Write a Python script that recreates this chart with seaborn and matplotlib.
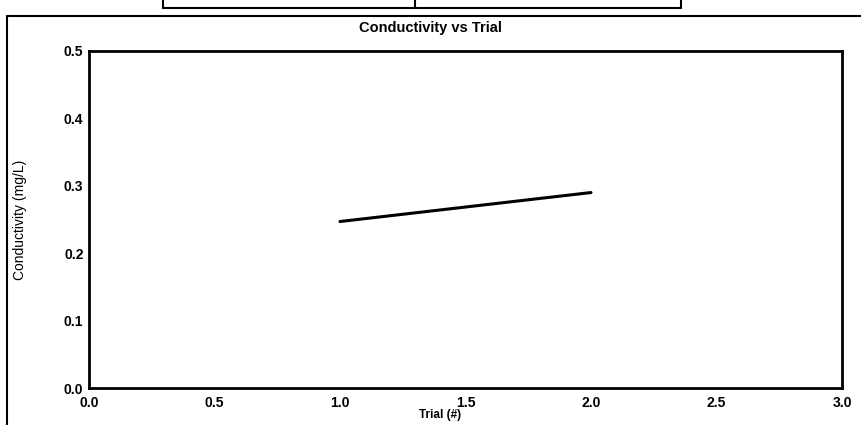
"""Conductivity vs Trial: single fitted line, scanned-report look."""
import matplotlib.pyplot as plt
import pandas as pd
import seaborn as sns
from matplotlib.lines import Line2D

trial = [1.0, 2.0]
conductivity = [0.247, 0.290]
x_ticks = [0.0, 0.5, 1.0, 1.5, 2.0, 2.5, 3.0]
y_ticks = [0.0, 0.1, 0.2, 0.3, 0.4, 0.5]

df = pd.DataFrame({"Trial (#)": trial, "Conductivity (mg/L)": conductivity})

sns.set_style("white")
plt.rcParams["font.family"] = ["Liberation Sans", "DejaVu Sans"]
plt.rcParams["text.color"] = "black"

W, H = 861, 425
fig = plt.figure(figsize=(W / 100, H / 100), dpi=100)
ax = fig.add_axes([89 / W, 1 - 388 / H, (842 - 89) / W, (388 - 51) / H])

sns.lineplot(data=df, x="Trial (#)", y="Conductivity (mg/L)", ax=ax,
             color="black", linewidth=2.2)

ax.set_xlim(0, 3)
ax.set_ylim(0, 0.5)
ax.set_xticks(x_ticks)
ax.set_yticks(y_ticks)
ax.set_xticklabels([f"{v:.1f}" for v in x_ticks], fontsize=10, fontweight="bold")
ax.set_yticklabels([f"{v:.1f}" for v in y_ticks], fontsize=10, fontweight="bold")
ax.tick_params(direction="in", length=5, width=1.5, colors="black")
ax.tick_params(axis="x", pad=6)
ax.tick_params(axis="y", pad=4)
for s in ax.spines.values():
    s.set_linewidth(2)
    s.set_color("black")

ax.set_xlabel("")
ax.set_ylabel("")
fig.text(440 / W, 1 - 415 / H, "Trial (#)", ha="center", va="center",
         fontsize=8.5, fontweight="bold", color="black")
fig.text(20 / W, 1 - 220 / H, "Conductivity (mg/L)", ha="center", va="center",
         rotation=90, fontsize=10, color="black")
fig.text(430 / W, 1 - 28 / H, "Conductivity vs Trial", ha="center", va="center",
         fontsize=10.5, fontweight="bold", color="black")

# frame bits from the scanned page
def px_line(xs, ys, lw=1.5):
    fig.add_artist(Line2D([x / W for x in xs], [1 - y / H for y in ys],
                          color="black", linewidth=lw))

px_line([7, 7], [16, 425])
px_line([7, 861], [16, 16])
px_line([163, 163], [0, 8])
px_line([415, 415], [0, 8])
px_line([681, 681], [0, 8])
px_line([163, 681], [8, 8])

fig.savefig("out.png", dpi=100)
